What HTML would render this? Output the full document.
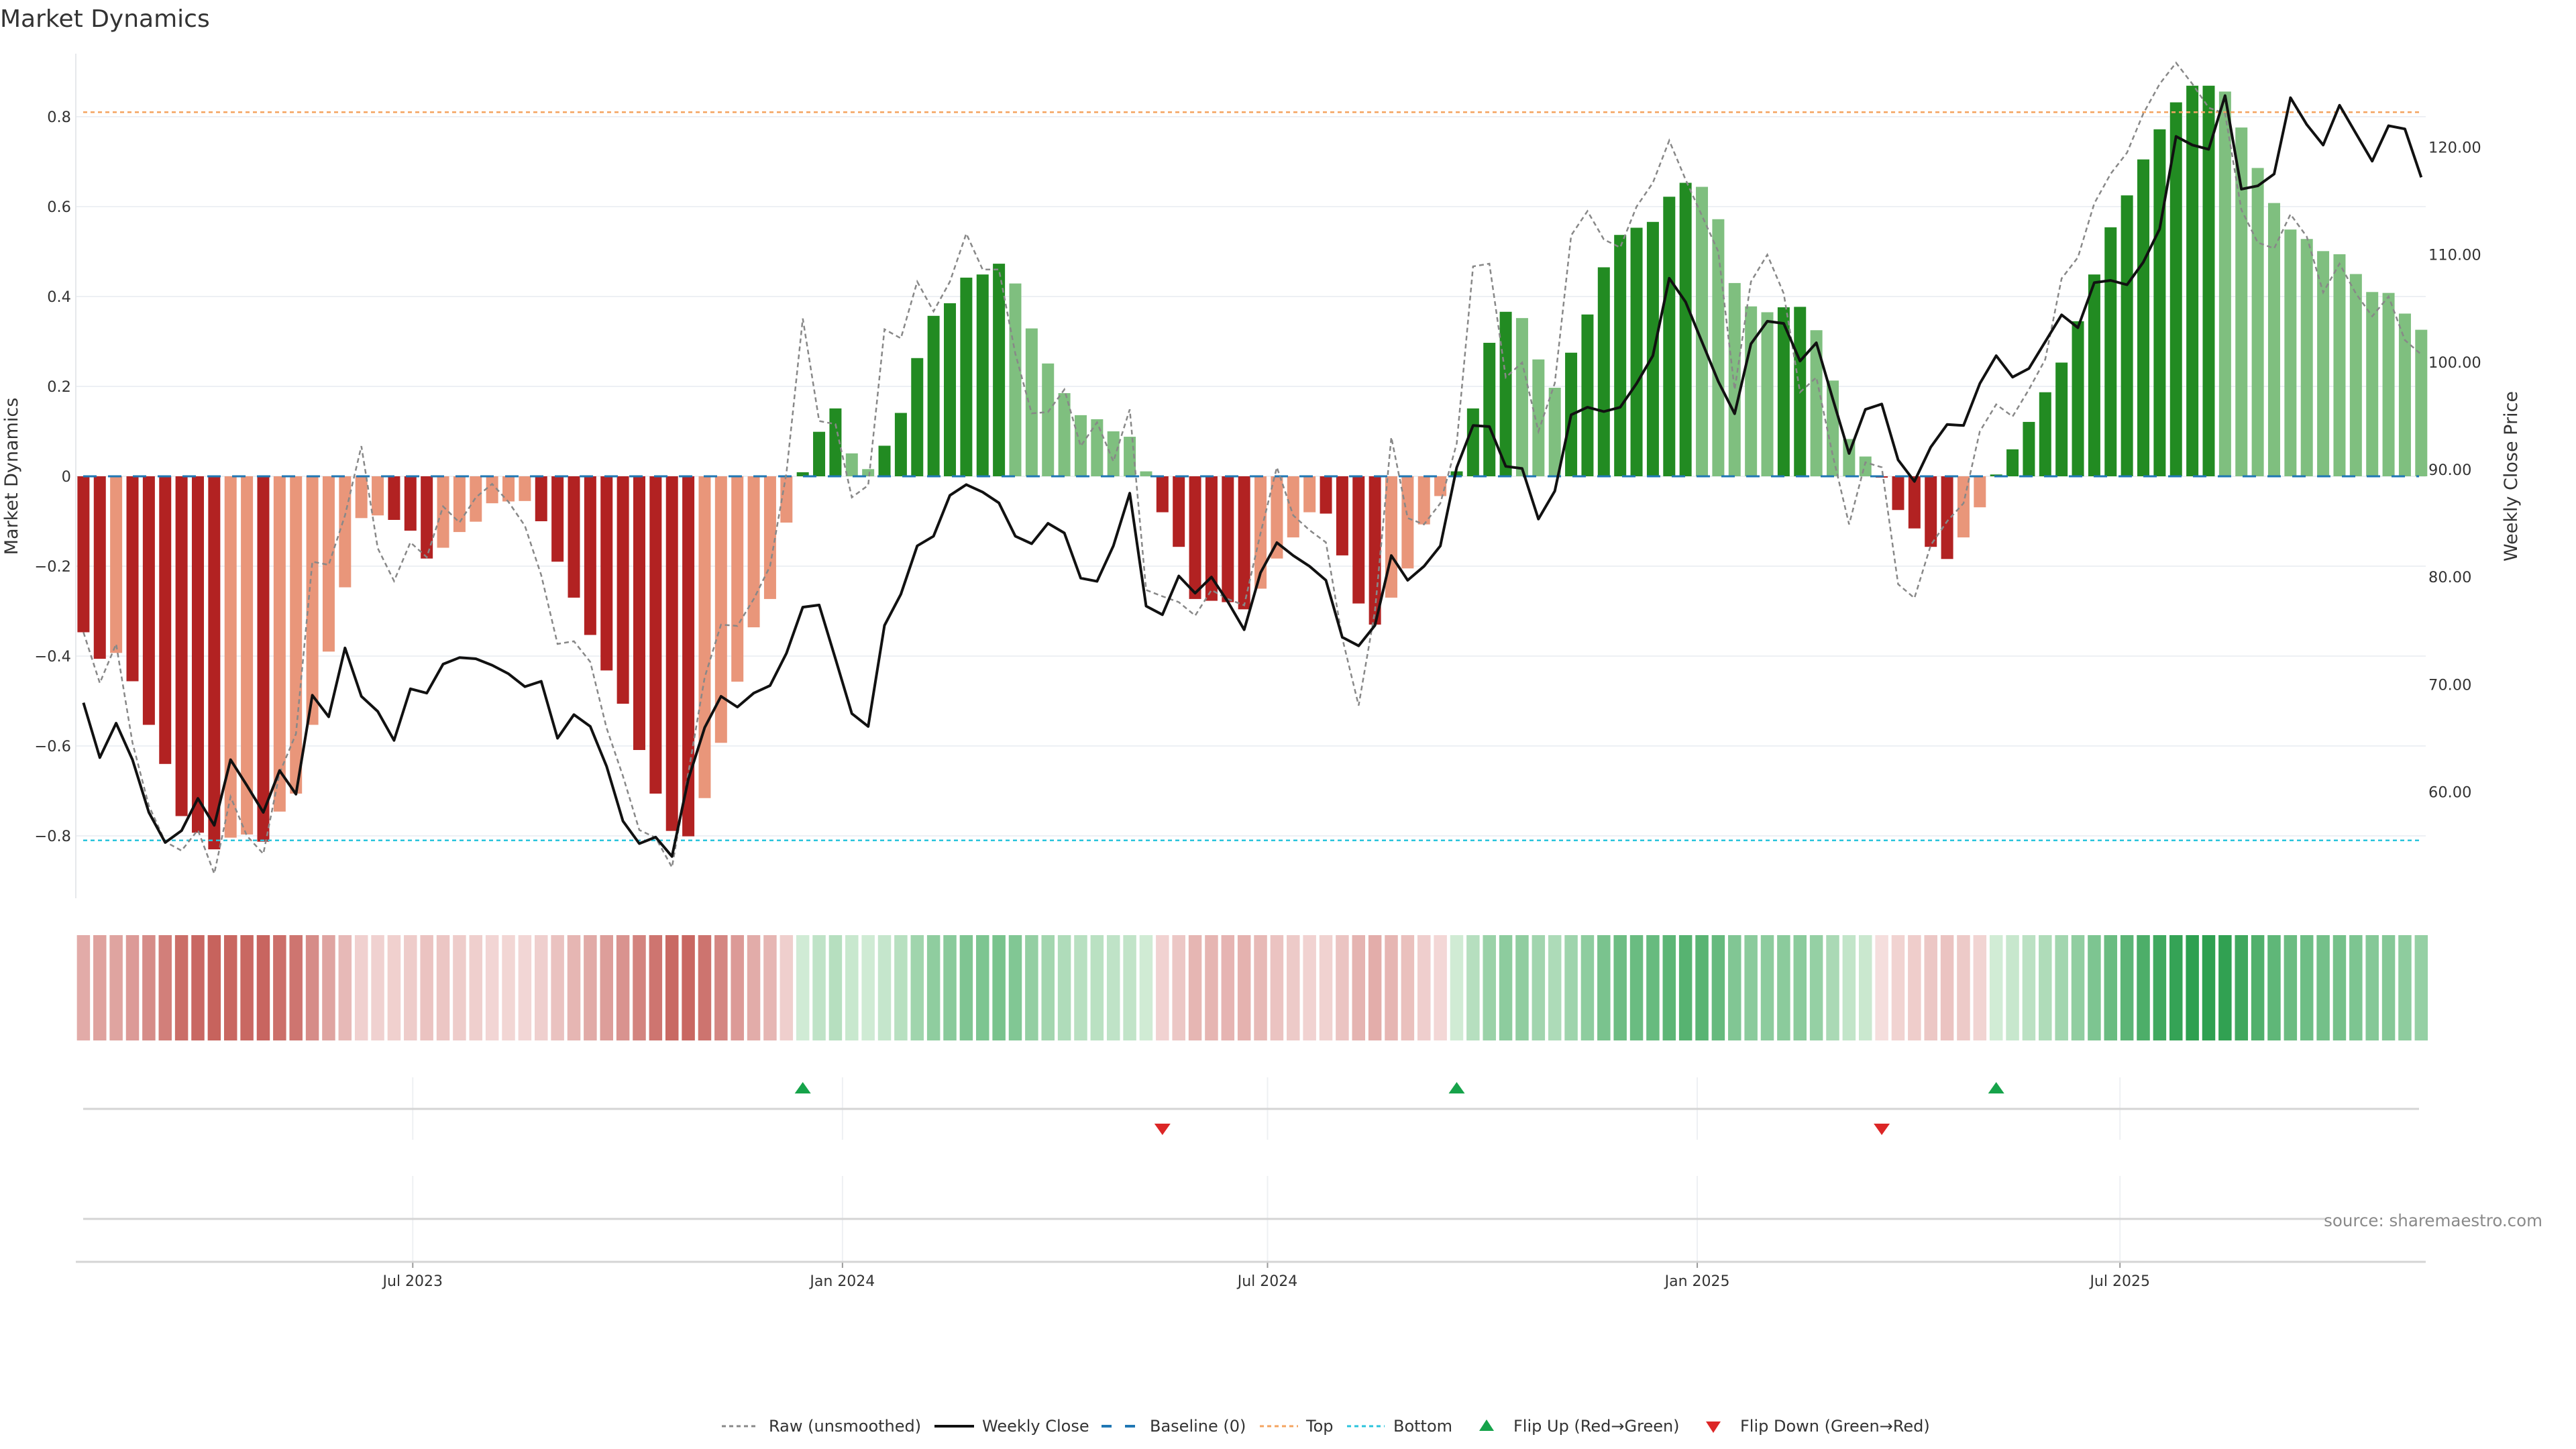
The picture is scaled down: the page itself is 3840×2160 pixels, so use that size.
<!DOCTYPE html>
<html><head><meta charset="utf-8"><style>
html,body{margin:0;padding:0;background:#fff;}
svg{display:block;font-family:"DejaVu Sans","Liberation Sans",sans-serif;}
</style></head><body>
<svg id="chart" width="3840" height="2160" viewBox="0 0 3840 2160" xmlns="http://www.w3.org/2000/svg">
<rect x="0" y="0" width="3840" height="2160" fill="#fff"/>
<text x="0" y="40" font-size="36" fill="#333">Market Dynamics</text>
<g id="grid"></g>
<g id="bars"></g>
<g id="lines"></g>
<g id="heat"></g>
<g id="flips"></g>
<g id="axes"></g>
<g id="legend"></g>
</svg>
<script>
const momentum = [-0.347,-0.406,-0.393,-0.456,-0.553,-0.64,-0.756,-0.793,-0.83,-0.804,-0.797,-0.813,-0.746,-0.706,-0.553,-0.39,-0.247,-0.093,-0.087,-0.097,-0.121,-0.183,-0.159,-0.124,-0.101,-0.06,-0.056,-0.055,-0.1,-0.19,-0.27,-0.353,-0.432,-0.506,-0.609,-0.706,-0.789,-0.801,-0.716,-0.593,-0.457,-0.336,-0.273,-0.103,0.009,0.099,0.151,0.051,0.016,0.068,0.141,0.263,0.357,0.385,0.442,0.449,0.473,0.429,0.329,0.251,0.185,0.136,0.127,0.1,0.088,0.011,-0.08,-0.157,-0.273,-0.277,-0.28,-0.296,-0.25,-0.183,-0.136,-0.08,-0.083,-0.176,-0.283,-0.33,-0.27,-0.205,-0.107,-0.044,0.011,0.151,0.297,0.366,0.352,0.26,0.197,0.275,0.36,0.465,0.537,0.553,0.566,0.622,0.653,0.644,0.572,0.43,0.378,0.365,0.376,0.377,0.325,0.213,0.083,0.044,-0.003,-0.075,-0.116,-0.157,-0.184,-0.136,-0.069,0.004,0.06,0.121,0.187,0.253,0.345,0.449,0.554,0.625,0.705,0.772,0.832,0.869,0.869,0.856,0.776,0.686,0.608,0.549,0.528,0.501,0.494,0.45,0.41,0.408,0.362,0.326];
const rawValues = [-0.347,-0.46,-0.373,-0.593,-0.733,-0.813,-0.833,-0.787,-0.884,-0.713,-0.8,-0.84,-0.66,-0.573,-0.19,-0.197,-0.087,0.067,-0.16,-0.233,-0.147,-0.18,-0.067,-0.103,-0.047,-0.017,-0.057,-0.11,-0.22,-0.373,-0.367,-0.413,-0.56,-0.667,-0.787,-0.804,-0.87,-0.66,-0.447,-0.33,-0.333,-0.273,-0.2,0.007,0.351,0.123,0.116,-0.047,-0.02,0.327,0.307,0.433,0.367,0.433,0.54,0.46,0.46,0.273,0.14,0.143,0.193,0.067,0.12,0.033,0.149,-0.253,-0.267,-0.28,-0.31,-0.253,-0.273,-0.287,-0.127,0.02,-0.087,-0.12,-0.147,-0.36,-0.51,-0.3,0.087,-0.093,-0.107,-0.06,0.073,0.467,0.473,0.22,0.253,0.1,0.207,0.536,0.59,0.527,0.509,0.6,0.653,0.747,0.66,0.58,0.5,0.193,0.433,0.493,0.407,0.187,0.22,0.047,-0.107,0.031,0.02,-0.24,-0.271,-0.153,-0.1,-0.06,0.1,0.16,0.133,0.193,0.26,0.44,0.487,0.607,0.673,0.72,0.807,0.873,0.92,0.873,0.82,0.807,0.593,0.52,0.507,0.583,0.533,0.409,0.473,0.407,0.356,0.4,0.303,0.271];
const closePrices = [68.3,63.2,66.4,63.0,58.1,55.3,56.4,59.4,56.9,63.0,60.6,58.1,62.0,59.8,69.0,67.0,73.4,68.9,67.5,64.8,69.6,69.2,71.9,72.5,72.4,71.8,71.0,69.8,70.3,65.0,67.2,66.1,62.4,57.3,55.2,55.8,54.0,61.2,66.0,68.9,67.9,69.2,69.9,72.9,77.2,77.4,72.4,67.3,66.1,75.5,78.4,82.9,83.8,87.6,88.6,87.9,86.9,83.8,83.1,85.0,84.1,79.9,79.6,82.9,87.8,77.3,76.5,80.1,78.5,80.0,77.7,75.1,80.4,83.2,82.0,81.0,79.7,74.4,73.6,75.5,82.0,79.7,81.0,82.9,90.2,94.1,94.0,90.3,90.1,85.4,88.0,95.1,95.8,95.4,95.8,98.0,100.6,107.8,105.6,101.9,98.2,95.2,101.7,103.8,103.6,100.1,101.8,96.6,91.5,95.6,96.1,90.9,88.9,92.1,94.2,94.1,98.0,100.6,98.6,99.4,101.9,104.4,103.2,107.4,107.6,107.2,109.3,112.4,121.0,120.2,119.8,124.8,116.1,116.4,117.5,124.6,122.1,120.2,123.9,121.3,118.7,122.0,121.7,117.2];
const flipUpIdx = [44,84,117];
const flipDownIdx = [66,110];
const leftTicks = [0.8,0.6,0.4,0.2,0,-0.2,-0.4,-0.6,-0.8];
const leftTickLabels = ["0.8","0.6","0.4","0.2","0","\u22120.2","\u22120.4","\u22120.6","\u22120.8"];
const rightTicks = [60,70,80,90,100,110,120];
const dateTickDates = ["2023-07-01","2024-01-01","2024-07-01","2025-01-01","2025-07-01"];
const dateTickLabels = ["Jul 2023","Jan 2024","Jul 2024","Jan 2025","Jul 2025"];
const topLevel = 0.81, bottomLevel = -0.81;
const startDate = "2023-02-10";

const NS = "http://www.w3.org/2000/svg";
const X0 = 124.4, PITCH = 24.37;
const xIdx = i => X0 + i * PITCH;
const xDate = d => X0 + ((new Date(d) - new Date(startDate)) / 86400000 / 7) * PITCH;
const yL = v => 710 - 670 * v;
const yR = p => 700 - (p - 90) * 16.02;
const PX0 = 113, PX1 = 3616, LX0 = 124, LX1 = 3606;
function mk(tag, attrs, parent, text) {
  const e = document.createElementNS(NS, tag);
  for (const k in attrs) e.setAttribute(k, attrs[k]);
  if (text !== undefined) e.textContent = text;
  parent.appendChild(e);
  return e;
}
const G = id => document.getElementById(id);

leftTicks.forEach((v, k) => {
  const l = mk("line", {x1: PX0, x2: PX1, y1: yL(v), y2: yL(v), stroke: "#edf0f4", "stroke-width": 2}, G("grid"));
  
  
  const t = mk("text", {x: 106, y: yL(v) + 8, "text-anchor": "end", "font-size": 22.5, fill: "#333"}, G("axes"), leftTickLabels[k]);
  
  
});
rightTicks.forEach(p => {
  const t = mk("text", {x: 3620, y: yR(p) + 8, "font-size": 22.5, fill: "#333"}, G("axes"), p.toFixed(2));
  
  
});
const spine = mk("line", {x1: PX0, x2: PX0, y1: 80, y2: 1339, stroke: "#e6e8eb", "stroke-width": 2}, G("axes"));


const yt1 = mk("text", {x: 0, y: 0, "font-size": 27, fill: "#333", "text-anchor": "middle", transform: "translate(26,710) rotate(-90)"}, G("axes"), "Market Dynamics");


const yt2 = mk("text", {x: 0, y: 0, "font-size": 27, fill: "#333", "text-anchor": "middle", transform: "translate(3752,710) rotate(-90)"}, G("axes"), "Weekly Close Price");



momentum.forEach((v, i) => {
  const prev = i > 0 ? momentum[i - 1] : null;
  const strong = prev === null || Math.sign(prev) !== Math.sign(v) || Math.abs(v) >= Math.abs(prev);
  const fill = v >= 0 ? (strong ? "#228b22" : "#7fbf7f") : (strong ? "#b22222" : "#e9967a");
  const y0 = yL(0), y1 = yL(v);
  const r = mk("rect", {x: xIdx(i) - 9, y: Math.min(y0, y1), width: 18, height: Math.max(1, Math.abs(y1 - y0)), fill: fill}, G("bars"));
  
  
});

const base = mk("line", {x1: LX0, x2: LX1, y1: yL(0), y2: yL(0), stroke: "#1f77b4", "stroke-width": 3, "stroke-dasharray": "20 17"}, G("lines"));


const topL = mk("line", {x1: LX0, x2: LX1, y1: yL(topLevel), y2: yL(topLevel), stroke: "#f4a460", "stroke-width": 2.5, "stroke-dasharray": "6 5"}, G("lines"));


const botL = mk("line", {x1: LX0, x2: LX1, y1: yL(bottomLevel), y2: yL(bottomLevel), stroke: "#2bc4dc", "stroke-width": 2.5, "stroke-dasharray": "6 5"}, G("lines"));



const rawPts = rawValues.map((v, i) => xIdx(i).toFixed(1) + "," + yL(v).toFixed(1)).join(" ");
const rawLine = mk("polyline", {points: rawPts, fill: "none", stroke: "#888", "stroke-width": 2.5, "stroke-dasharray": "7 5"}, G("lines"));


const closePts = closePrices.map((p, i) => xIdx(i).toFixed(1) + "," + yR(p).toFixed(1)).join(" ");
const closeLine = mk("polyline", {points: closePts, fill: "none", stroke: "#111", "stroke-width": 4, "stroke-linejoin": "round"}, G("lines"));



const lerp = (a, b, t) => a.map((c, k) => Math.round(c + (b[k] - c) * t));
momentum.forEach((v, i) => {
  let c;
  if (v < 0) c = lerp([245, 222, 221], [198, 96, 90], Math.min(1, -v / 0.85));
  else c = lerp([210, 236, 214], [46, 160, 80], Math.min(1, v / 0.87));
  const r = mk("rect", {x: xIdx(i) - 9.75, y: 1394, width: 19.5, height: 157, fill: "rgb(" + c.join(",") + ")"}, G("heat"));
  
  
});

dateTickDates.forEach((d, k) => {
  const x = xDate(d);
  const g1 = mk("line", {x1: x, x2: x, y1: 1606, y2: 1699, stroke: "#eef0f3", "stroke-width": 2}, G("flips"));
  
  
  const g2 = mk("line", {x1: x, x2: x, y1: 1753, y2: 1880, stroke: "#eef0f3", "stroke-width": 2}, G("flips"));
  
  
  const tk = mk("line", {x1: x, x2: x, y1: 1881, y2: 1890, stroke: "#999", "stroke-width": 2}, G("axes"));
  
  
  const t = mk("text", {x: x, y: 1917, "text-anchor": "middle", "font-size": 22, fill: "#333"}, G("axes"), dateTickLabels[k]);
  
  
});
const fl1 = mk("line", {x1: LX0, x2: LX1, y1: 1653, y2: 1653, stroke: "#d4d4d4", "stroke-width": 3}, G("flips"));


const fl2 = mk("line", {x1: LX0, x2: LX1, y1: 1817, y2: 1817, stroke: "#d4d4d4", "stroke-width": 3}, G("flips"));


const xa = mk("line", {x1: PX0, x2: PX1, y1: 1881, y2: 1881, stroke: "#d4d4d4", "stroke-width": 3}, G("axes"));


flipUpIdx.forEach(i => {
  const x = xIdx(i), y = 1622;
  const p = mk("polygon", {points: `${x-12},${y+8} ${x+12},${y+8} ${x},${y-9}`, fill: "#16a34a"}, G("flips"));
  
  
});
flipDownIdx.forEach(i => {
  const x = xIdx(i), y = 1683;
  const p = mk("polygon", {points: `${x-12},${y-8} ${x+12},${y-8} ${x},${y+9}`, fill: "#dc2626"}, G("flips"));
  
  
});
const srcBg = mk("rect", {x: 3466, y: 1800, width: 336, height: 36, fill: "#fff"}, G("axes"));


const src = mk("text", {x: 3790, y: 1828, "text-anchor": "end", "font-size": 24.5, fill: "#8a8a8a"}, G("axes"), "source: sharemaestro.com");



const LY = 2126;
const lg = G("legend");
function legLine(x1, x2, attrs, name) {
  const l = mk("line", Object.assign({x1: x1, x2: x2, y1: LY, y2: LY}, attrs), lg);
  
  
}
function legText(x, s, name) {
  const t = mk("text", {x: x, y: LY + 8, "font-size": 24, fill: "#333"}, lg, s);
  
  
}
legLine(1076, 1130, {stroke: "#888", "stroke-width": 3, "stroke-dasharray": "6 5"}, "legend-raw-swatch");
legText(1146, "Raw (unsmoothed)", "legend-raw");
legLine(1393, 1452, {stroke: "#111", "stroke-width": 4}, "legend-close-swatch");
legText(1464, "Weekly Close", "legend-close");
legLine(1642, 1697, {stroke: "#1f77b4", "stroke-width": 4, "stroke-dasharray": "15 20"}, "legend-baseline-swatch");
legText(1714, "Baseline (0)", "legend-baseline");
legLine(1878, 1935, {stroke: "#f4a460", "stroke-width": 3, "stroke-dasharray": "6 5"}, "legend-top-swatch");
legText(1947, "Top", "legend-top");
legLine(2008, 2064, {stroke: "#2bc4dc", "stroke-width": 3, "stroke-dasharray": "6 5"}, "legend-bottom-swatch");
legText(2077, "Bottom", "legend-bottom");
const lu = mk("polygon", {points: `${2216-11},${LY+7} ${2216+11},${LY+7} 2216,${LY-10}`, fill: "#16a34a"}, lg);


legText(2256, "Flip Up (Red\u2192Green)", "legend-flip-up");
const ld = mk("polygon", {points: `${2554-11},${LY-7} ${2554+11},${LY-7} 2554,${LY+10}`, fill: "#dc2626"}, lg);


legText(2594, "Flip Down (Green\u2192Red)", "legend-flip-down");
</script>
</body></html>
